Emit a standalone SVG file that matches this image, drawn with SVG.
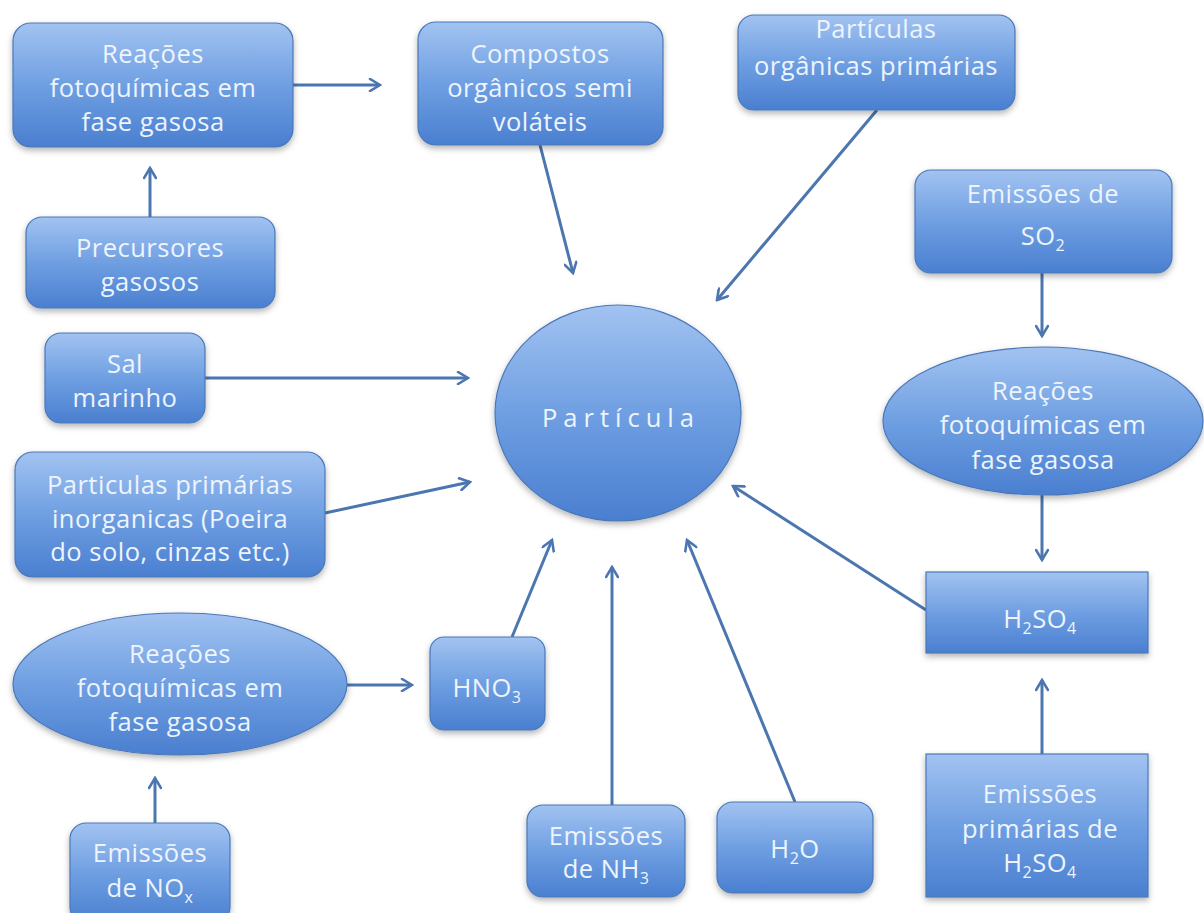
<svg xmlns="http://www.w3.org/2000/svg" width="1204" height="913" viewBox="0 0 1204 913">
<defs>
<linearGradient id="g" x1="0" y1="0" x2="0" y2="1">
<stop offset="0" stop-color="#a2c3f1"/>
<stop offset="0.5" stop-color="#6f9fe2"/>
<stop offset="1" stop-color="#4a7fd0"/>
</linearGradient>
<filter id="sh" x="-10%" y="-10%" width="120%" height="130%">
<feDropShadow dx="0" dy="3" stdDeviation="3" flood-color="#000" flood-opacity="0.3"/>
</filter>
<marker id="ah" viewBox="0 0 14 14" refX="12" refY="7" markerWidth="14" markerHeight="14" markerUnits="userSpaceOnUse" orient="auto">
<path d="M2,1 L12,7 L2,13" fill="none" stroke="#4b76b0" stroke-width="2.6" stroke-linecap="round"/>
</marker>
</defs>
<style>
.n{fill:url(#g);stroke:#4a78b8;stroke-width:1.2;filter:url(#sh)}
.t{font-family:"Open Sans","Noto Sans",sans-serif;font-size:25.5px;letter-spacing:0.5px;fill:#eef4fd;text-anchor:middle}
.c{stroke:#4b76b0;stroke-width:3;fill:none;marker-end:url(#ah)}
.s{font-size:16px}
</style>
<rect width="1204" height="913" fill="#ffffff"/>
<g id="connectors">
<line class="c" x1="293" y1="85" x2="380" y2="85"/>
<line class="c" x1="150" y1="217" x2="150" y2="168"/>
<line class="c" x1="540" y1="145" x2="573" y2="273"/>
<line class="c" x1="877" y1="110" x2="717" y2="300"/>
<line class="c" x1="1042" y1="273" x2="1042" y2="336"/>
<line class="c" x1="1042" y1="495" x2="1042" y2="560"/>
<line class="c" x1="1042" y1="754" x2="1042" y2="680"/>
<line class="c" x1="926" y1="610" x2="733" y2="486"/>
<line class="c" x1="205" y1="378" x2="468" y2="378"/>
<line class="c" x1="325" y1="513" x2="470" y2="482"/>
<line class="c" x1="347" y1="685" x2="412" y2="685"/>
<line class="c" x1="155" y1="823" x2="155" y2="778"/>
<line class="c" x1="512" y1="637" x2="552" y2="540"/>
<line class="c" x1="612" y1="805" x2="612" y2="567"/>
<line class="c" x1="795" y1="802" x2="687" y2="540"/>
</g>
<g id="n1"><rect class="n" x="13" y="23" width="280" height="124" rx="18"/>
<text class="t" x="153" y="63">Reações</text><text class="t" x="153" y="97">fotoquímicas em</text><text class="t" x="153" y="131">fase gasosa</text></g>
<g id="n2"><rect class="n" x="26" y="217" width="249" height="91" rx="16"/>
<text class="t" x="150" y="257">Precursores</text><text class="t" x="150" y="291">gasosos</text></g>
<g id="n3"><rect class="n" x="418" y="22" width="245" height="123" rx="18"/>
<text class="t" x="540" y="63">Compostos</text><text class="t" x="540" y="97">orgânicos semi</text><text class="t" x="540" y="131">voláteis</text></g>
<g id="n4"><rect class="n" x="738" y="15" width="277" height="95" rx="16"/>
<text class="t" x="876" y="38">Partículas</text><text class="t" x="876" y="75">orgânicas primárias</text></g>
<g id="n5"><rect class="n" x="915" y="170" width="257" height="103" rx="16"/>
<text class="t" x="1043" y="203">Emissões de</text><text class="t" x="1043" y="245">SO<tspan class="s" dy="6">2</tspan></text></g>
<g id="n6"><ellipse class="n" cx="1043" cy="421" rx="160" ry="74"/>
<text class="t" x="1043" y="400">Reações</text><text class="t" x="1043" y="434">fotoquímicas em</text><text class="t" x="1043" y="469">fase gasosa</text></g>
<g id="n7"><rect class="n" x="926" y="572" width="222" height="81"/>
<text class="t" x="1040" y="628">H<tspan class="s" dy="6">2</tspan><tspan dy="-6">SO</tspan><tspan class="s" dy="6">4</tspan></text></g>
<g id="n8"><rect class="n" x="926" y="754" width="222" height="143"/>
<text class="t" x="1040" y="803">Emissões</text><text class="t" x="1040" y="838">primárias de</text><text class="t" x="1040" y="872">H<tspan class="s" dy="6">2</tspan><tspan dy="-6">SO</tspan><tspan class="s" dy="6">4</tspan></text></g>
<g id="n9"><ellipse class="n" cx="618" cy="413" rx="123" ry="108"/>
<text class="t" x="621" y="427" style="letter-spacing:6px">Partícula</text></g>
<g id="n10"><rect class="n" x="45" y="333" width="160" height="90" rx="16"/>
<text class="t" x="125" y="373">Sal</text><text class="t" x="125" y="407">marinho</text></g>
<g id="n11"><rect class="n" x="15" y="452" width="310" height="125" rx="18"/>
<text class="t" x="170" y="494">Particulas primárias</text><text class="t" x="170" y="528">inorganicas (Poeira</text><text class="t" x="170" y="561">do solo, cinzas etc.)</text></g>
<g id="n12"><ellipse class="n" cx="180" cy="684" rx="167" ry="71"/>
<text class="t" x="180" y="663">Reações</text><text class="t" x="180" y="697">fotoquímicas em</text><text class="t" x="180" y="731">fase gasosa</text></g>
<g id="n13"><rect class="n" x="430" y="637" width="115" height="93" rx="14"/>
<text class="t" x="487" y="697">HNO<tspan class="s" dy="6">3</tspan></text></g>
<g id="n14"><rect class="n" x="70" y="823" width="160" height="100" rx="16"/>
<text class="t" x="150" y="862">Emissões</text><text class="t" x="150" y="897">de NO<tspan class="s" dy="6">x</tspan></text></g>
<g id="n15"><rect class="n" x="527" y="805" width="158" height="92" rx="16"/>
<text class="t" x="606" y="845">Emissões</text><text class="t" x="606" y="878">de NH<tspan class="s" dy="6">3</tspan></text></g>
<g id="n16"><rect class="n" x="717" y="802" width="156" height="91" rx="16"/>
<text class="t" x="795" y="858">H<tspan class="s" dy="6">2</tspan><tspan dy="-6">O</tspan></text></g>
</svg>
